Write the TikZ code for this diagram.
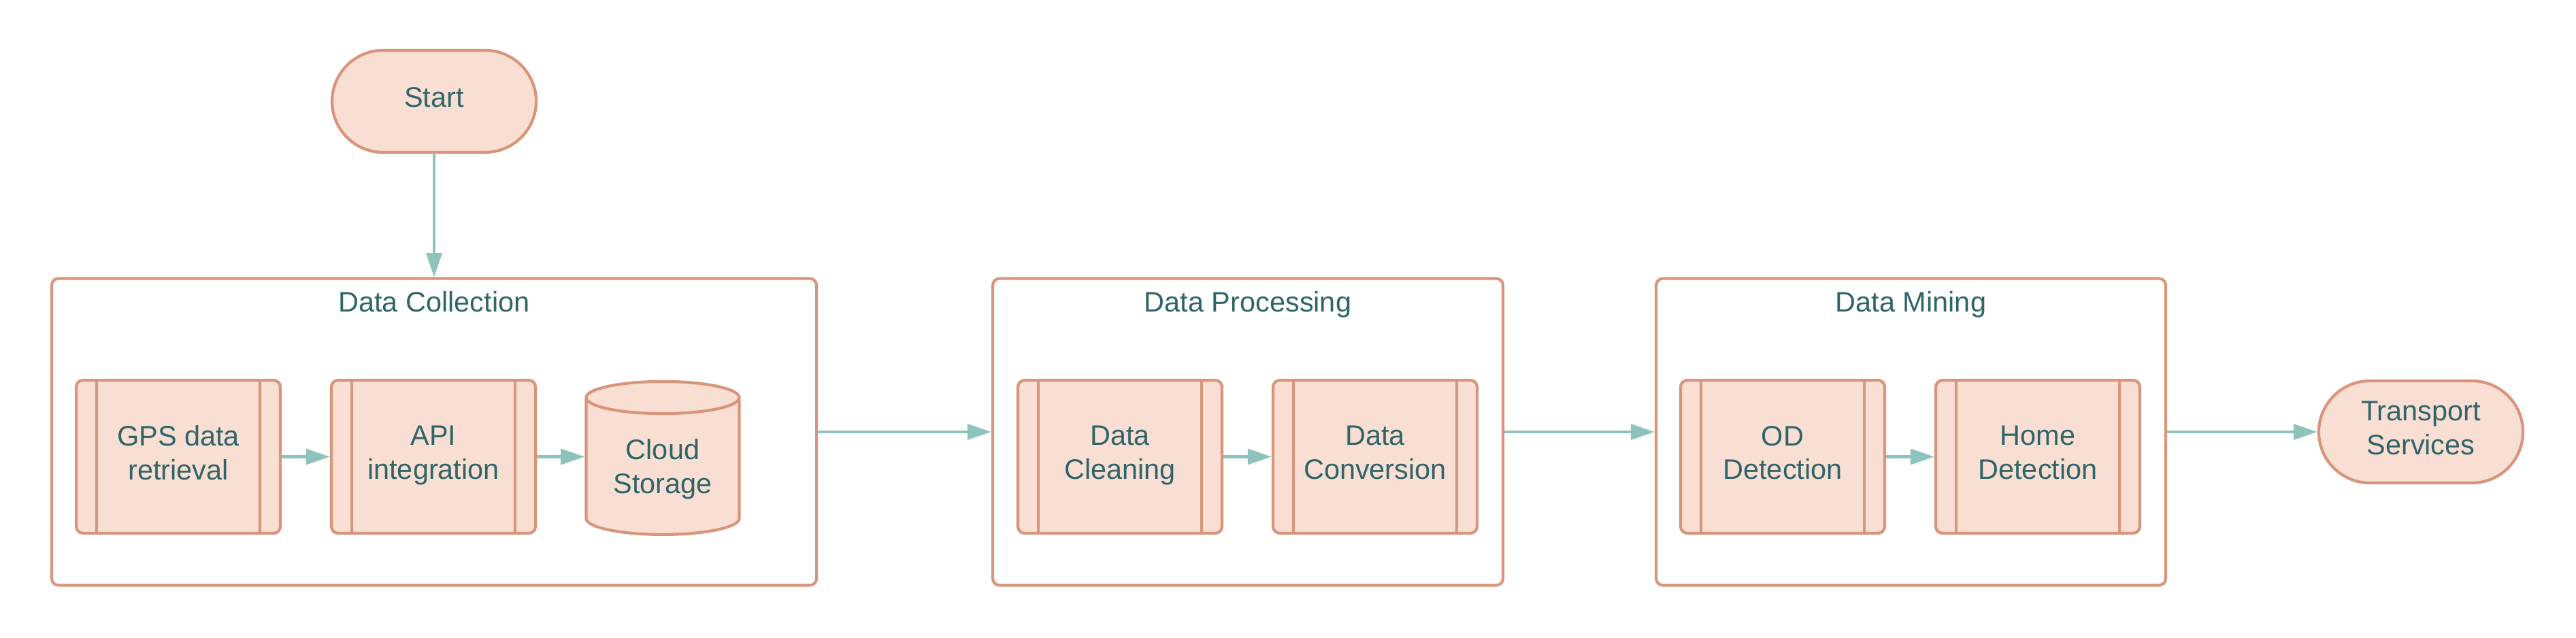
\documentclass[tikz,border=0pt]{standalone}
\usepackage{fontspec}
\setmainfont{Liberation Sans}
\usetikzlibrary{arrows.meta,positioning,shapes.geometric}
\definecolor{boxfill}{HTML}{F9DED3}
\definecolor{boxline}{HTML}{D8957B}
\definecolor{flowline}{HTML}{8EC3BD}
\definecolor{labeltext}{HTML}{2F6569}
\tikzset{
	every node/.style={text=labeltext, font=\fontsize{11.8}{14.2}\selectfont, align=center, text depth=0.12cm},
	flow/.style={-{Triangle[length=10pt,width=6.5pt]}, draw=flowline, line width=1.2pt}, % teal connectors
	terminal/.style={draw=boxline, fill=boxfill, line width=1.2pt, minimum width=3cm, minimum height=1.5cm, rounded corners=0.75cm},
	stage/.style={draw=boxline, line width=1.2pt, rounded corners=0.1cm, minimum height=4.51cm},
	process/.style={draw=boxline, fill=boxfill, line width=1.2pt, rounded corners=0.1cm, minimum width=3cm, minimum height=2.25cm,
		path picture={
			\draw[boxline, line width=1.2pt] ([xshift=0.3cm]path picture bounding box.north west) -- ([xshift=0.3cm]path picture bounding box.south west);
			\draw[boxline, line width=1.2pt] ([xshift=-0.3cm]path picture bounding box.north east) -- ([xshift=-0.3cm]path picture bounding box.south east);
		}},
	storage/.style={cylinder, shape border rotate=90, aspect=0.28, draw=boxline, line width=1.2pt,
		cylinder uses custom fill, cylinder body fill=boxfill, cylinder end fill=boxfill,
		minimum width=2.25cm, minimum height=2.25cm},
	node distance=3.75cm,
	on grid,
}

\begin{document}
\begin{tikzpicture}
	\useasboundingbox (0,0) rectangle (37.86,9.38);

	% stages
	\node[stage, minimum width=11.24cm] (collect) at (6.38,3.03) {};
	\node[stage, minimum width=7.5cm] (process) at (18.34,3.03) {};
	\node[stage, minimum width=7.49cm] (mine) at (28.085,3.03) {};
	\node (collect title) at ([yshift=-0.42cm]collect.north) {Data Collection};
	\node (process title) at ([yshift=-0.42cm]process.north) {Data Processing};
	\node (mine title) at ([yshift=-0.42cm]mine.north) {Data Mining};

	\node[terminal] (start) at (6.38,7.89) {Start};
	\node[terminal] (transport) at (35.58,3.03) {Transport\\Services};

	% steps
	\node[process] (gps) at (2.62,2.665) {GPS data\\retrieval};
	\node[process, right=of gps] (api) {API\\integration};
	\node[storage, right=3.37cm of api, yshift=-0.2cm] (cloud) {Cloud\\Storage};
	\node[process] (clean) at (16.46,2.665) {Data\\Cleaning};
	\node[process, right=of clean] (convert) {Data\\Conversion};
	\node[process] (od) at (26.2,2.665) {OD\\Detection};
	\node[process, right=of od] (home) {Home\\Detection};

	\draw[flow] (start) -- (collect);
	\draw[flow] (gps) -- (api);
	\draw[flow] (api) -- (api -| cloud.west);
	\draw[flow] (collect) -- (process);
	\draw[flow] (clean) -- (convert);
	\draw[flow] (process) -- (mine);
	\draw[flow] (od) -- (home);
	\draw[flow] (mine) -- (transport);
\end{tikzpicture}
\end{document}
